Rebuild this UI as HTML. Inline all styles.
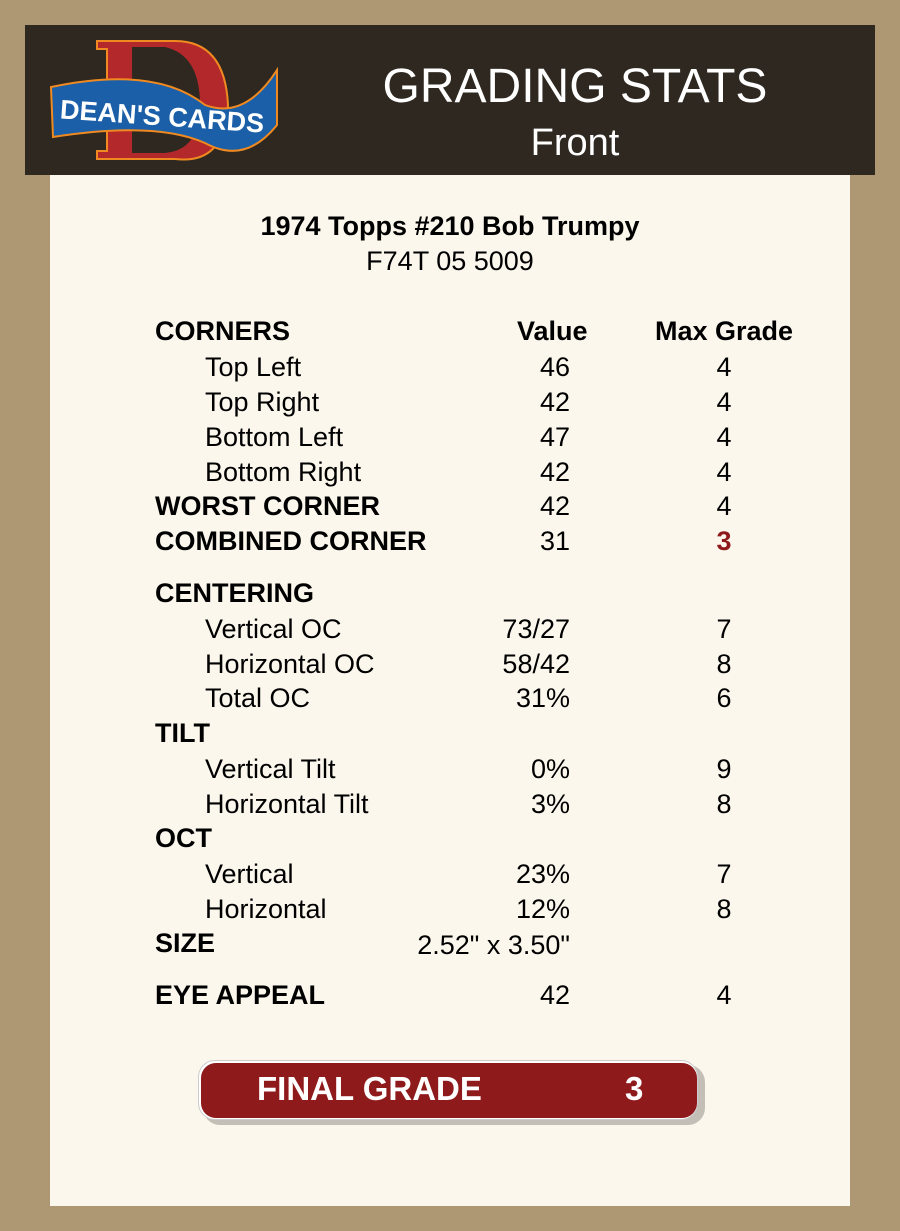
<!DOCTYPE html>
<html><head><style>
body{margin:0;width:900px;height:1231px;background:#ae9874;position:relative;overflow:hidden;font-family:"Liberation Sans",Arial,Helvetica,sans-serif;}
.hdr{position:absolute;left:25px;top:25px;width:850px;height:150px;background:#2e2820;}
.panel{position:absolute;left:50px;top:175px;width:800px;height:1031px;background:#fcf7ed;}
.t{position:absolute;font-size:27px;line-height:30px;color:#000;white-space:nowrap;}
.b{font-weight:bold;}
.v{text-align:right;width:250px;left:320px;}
.m{text-align:center;width:100px;left:674px;}
</style></head><body>
<div class="hdr">
<svg width="260" height="150" style="position:absolute;left:0;top:0">
<path d="M72 16 H150 Q200 16 203 80 Q200 140 150 134 H72 V126 H82 V24 H72Z" fill="#b3282a" stroke="#f08a20" stroke-width="2"/>
<path d="M107 22 H140 Q175 30 175 80 Q175 125 140 128 H107Z" fill="#2e2820"/>
<path d="M26 62 Q130 40 180 80 Q220 95 252 45 L252 100 Q220 140 180 118 Q130 96 28 112 Z" fill="#1a5fa8" stroke="#f08a20" stroke-width="2"/>
<text x="35" y="100" font-family="Liberation Sans" font-weight="bold" font-size="27" fill="#fff" transform="rotate(4 130 90)">DEAN'S CARDS</text>
</svg>
<div style="position:absolute;left:350px;width:400px;top:35px;text-align:center;color:#fff;font-size:48px;line-height:54px">GRADING STATS</div>
<div style="position:absolute;left:350px;width:400px;top:96px;text-align:center;color:#fff;font-size:38px;line-height:44px">Front</div>
</div>
<div class="panel"></div>
<div class="t b" style="left:0;width:900px;text-align:center;top:211px">1974 Topps #210 Bob Trumpy</div>
<div class="t" style="left:0;width:900px;text-align:center;top:246px">F74T 05 5009</div>

<div class="t b" style="left:155px;top:316px">CORNERS</div>
<div class="t b" style="left:517px;top:316px">Value</div>
<div class="t b" style="left:655px;top:316px">Max Grade</div>

<div class="t" style="left:205px;top:352px">Top Left</div><div class="t v" style="top:352px">46</div><div class="t m" style="top:352px">4</div>
<div class="t" style="left:205px;top:387px">Top Right</div><div class="t v" style="top:387px">42</div><div class="t m" style="top:387px">4</div>
<div class="t" style="left:205px;top:422px">Bottom Left</div><div class="t v" style="top:422px">47</div><div class="t m" style="top:422px">4</div>
<div class="t" style="left:205px;top:457px">Bottom Right</div><div class="t v" style="top:457px">42</div><div class="t m" style="top:457px">4</div>
<div class="t b" style="left:155px;top:491px">WORST CORNER</div><div class="t v" style="top:491px">42</div><div class="t m" style="top:491px">4</div>
<div class="t b" style="left:155px;top:526px">COMBINED CORNER</div><div class="t v" style="top:526px">31</div><div class="t m b" style="top:526px;color:#8f1a1c">3</div>

<div class="t b" style="left:155px;top:578px">CENTERING</div>
<div class="t" style="left:205px;top:614px">Vertical OC</div><div class="t v" style="top:614px">73/27</div><div class="t m" style="top:614px">7</div>
<div class="t" style="left:205px;top:649px">Horizontal OC</div><div class="t v" style="top:649px">58/42</div><div class="t m" style="top:649px">8</div>
<div class="t" style="left:205px;top:683px">Total OC</div><div class="t v" style="top:683px">31%</div><div class="t m" style="top:683px">6</div>
<div class="t b" style="left:155px;top:718px">TILT</div>
<div class="t" style="left:205px;top:754px">Vertical Tilt</div><div class="t v" style="top:754px">0%</div><div class="t m" style="top:754px">9</div>
<div class="t" style="left:205px;top:789px">Horizontal Tilt</div><div class="t v" style="top:789px">3%</div><div class="t m" style="top:789px">8</div>
<div class="t b" style="left:155px;top:823px">OCT</div>
<div class="t" style="left:205px;top:859px">Vertical</div><div class="t v" style="top:859px">23%</div><div class="t m" style="top:859px">7</div>
<div class="t" style="left:205px;top:894px">Horizontal</div><div class="t v" style="top:894px">12%</div><div class="t m" style="top:894px">8</div>
<div class="t b" style="left:155px;top:928px">SIZE</div><div class="t v" style="top:930px">2.52" x 3.50"</div>
<div class="t b" style="left:155px;top:980px">EYE APPEAL</div><div class="t v" style="top:980px">42</div><div class="t m" style="top:980px">4</div>

<div style="position:absolute;left:203px;top:1065px;width:502px;height:60px;border-radius:17px;background:#c4bfb6"></div>
<div style="position:absolute;left:198px;top:1060px;width:500px;height:60px;border-radius:17px;background:#fff;border:1px solid #ccc;box-sizing:border-box"></div>
<div style="position:absolute;left:201px;top:1063px;width:496px;height:55px;border-radius:15px;background:#8f1a1c"></div>
<div class="t b" style="left:257px;top:1070px;font-size:33px;line-height:38px;color:#fff">FINAL GRADE</div>
<div class="t b" style="left:625px;top:1070px;font-size:33px;line-height:38px;color:#fff">3</div>
</body></html>
